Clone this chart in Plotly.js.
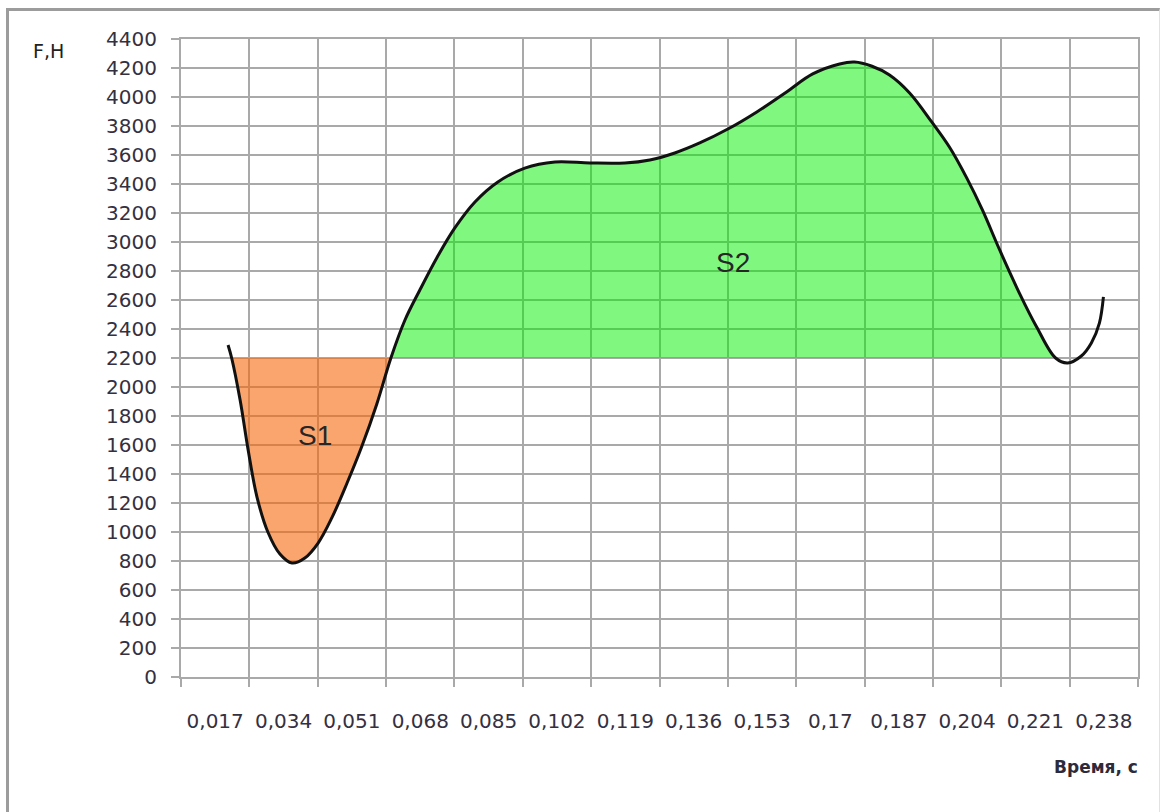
<!DOCTYPE html>
<html>
<head>
<meta charset="utf-8">
<script src="https://cdn.plot.ly/plotly-3.0.1.min.js"></script>
<style>
  html, body { margin: 0; padding: 0; background: #fff; }
  #wrap { position: relative; width: 1163px; height: 812px; }
  #chart { position: absolute; left: 0; top: 0; width: 1163px; height: 812px; }
  #frame { position: absolute; left: 6px; top: 8px; width: 1150px; height: 810px;
           border-left: 3px solid #9c9c9c; border-top: 3px solid #9c9c9c; border-right: 1px solid #e2e2e2;
           pointer-events: none; }
</style>
</head>
<body>
<div id="wrap">
  <div id="chart"></div>
  <div id="frame"></div>
</div>
<script>
// ---- data ----
const timeS = [0.0202, 0.0211, 0.0232, 0.0252, 0.0274, 0.0301, 0.0331, 0.0361, 0.0393, 0.0426,
               0.0460, 0.0498, 0.0535, 0.0572, 0.0607, 0.0642, 0.0679, 0.0721, 0.0766, 0.0816,
               0.0873, 0.0940, 0.1015, 0.1102, 0.1189, 0.1251, 0.1313, 0.1375, 0.1445, 0.1517,
               0.1591, 0.1656, 0.1723, 0.1760, 0.1802, 0.1847, 0.1897, 0.1952, 0.1996, 0.2039,
               0.2078, 0.2121, 0.2170, 0.2213, 0.2260, 0.2290, 0.2324, 0.2349, 0.2369, 0.2379];
const forceN = [2290, 2200, 1910, 1566, 1241, 1000, 848, 786, 821, 924,
                1097, 1338, 1593, 1883, 2200, 2462, 2669, 2890, 3097, 3276,
                3414, 3510, 3552, 3545, 3545, 3566, 3614, 3683, 3779, 3897,
                4035, 4159, 4228, 4241, 4214, 4152, 4028, 3828, 3655, 3442,
                3221, 2945, 2648, 2414, 2200, 2166, 2214, 2304, 2441, 2621];
const baseLevel = 2200;
const regionLabels = ['S1', 'S2'];
const regionLabelX = [0.0418, 0.1458];
const regionLabelY = [1669, 2862];
const xTickVals = [0.017, 0.034, 0.051, 0.068, 0.085, 0.102, 0.119, 0.136, 0.153, 0.17, 0.187, 0.204, 0.221, 0.238];
const xTickText = ['0,017', '0,034', '0,051', '0,068', '0,085', '0,102', '0,119', '0,136', '0,153', '0,17', '0,187', '0,204', '0,221', '0,238'];
const yAxisLabel = 'F,H';
const xAxisLabel = 'Время, с';

// ---- segments between the crossings of the base level ----
const cross = [];
forceN.forEach((v, i) => { if (v === baseLevel) cross.push(i); });
function seg(a, b) { return { x: timeS.slice(a, b + 1), y: forceN.slice(a, b + 1) }; }
const s1 = seg(cross[0], cross[1]);
const s2 = seg(cross[1], cross[2]);

const gridCol = '#a9a9a9';
const tickFont = { family: 'DejaVu Sans, Verdana, sans-serif', size: 20, color: '#35303f' };

const traces = [
  { x: [s1.x[0], s1.x[s1.x.length - 1]], y: [baseLevel, baseLevel], mode: 'lines',
    line: { width: 0 }, hoverinfo: 'skip', showlegend: false },
  { x: s1.x, y: s1.y, mode: 'lines', line: { width: 0, shape: 'spline' }, fill: 'tonexty',
    fillcolor: 'rgba(247,105,13,0.6)', hoverinfo: 'skip', showlegend: false },
  { x: [s2.x[0], s2.x[s2.x.length - 1]], y: [baseLevel, baseLevel], mode: 'lines',
    line: { width: 0 }, hoverinfo: 'skip', showlegend: false },
  { x: s2.x, y: s2.y, mode: 'lines', line: { width: 0, shape: 'spline' }, fill: 'tonexty',
    fillcolor: 'rgba(1,241,1,0.5)', hoverinfo: 'skip', showlegend: false },
  { x: timeS, y: forceN, mode: 'lines', line: { color: '#111', width: 3, shape: 'spline' },
    hoverinfo: 'skip', showlegend: false }
];

const annotations = regionLabels.map((t, i) => ({
  x: regionLabelX[i], y: regionLabelY[i], xref: 'x', yref: 'y', text: t, showarrow: false,
  font: { family: 'Liberation Sans, Arial, sans-serif', size: 28, color: '#262626' }
}));
annotations.push({ x: -0.138, y: 0.981, xref: 'paper', yref: 'paper', text: yAxisLabel,
  showarrow: false, xanchor: 'center', yanchor: 'middle',
  font: { family: 'DejaVu Sans, sans-serif', size: 19, color: '#222' } });
annotations.push({ x: 1.002, y: -0.141, xref: 'paper', yref: 'paper', text: '<b>' + xAxisLabel + '</b>',
  showarrow: false, xanchor: 'right', yanchor: 'middle',
  font: { family: 'DejaVu Sans, sans-serif', size: 17, color: '#2e2a3a' } });

const layout = {
  width: 1163, height: 812,
  margin: { l: 181, r: 25, t: 39, b: 135 },
  paper_bgcolor: '#fff', plot_bgcolor: '#fff',
  showlegend: false,
  hovermode: false,
  xaxis: {
    range: [0.0085, 0.2465], fixedrange: true,
    tickvals: xTickVals, ticktext: xTickText, tickfont: tickFont,
    ticks: '', showgrid: false, zeroline: false,
    ticklabelstandoff: 25,
    showline: true, mirror: true, linecolor: gridCol, linewidth: 2,
    minor: { tick0: 0.0085, dtick: 0.017, showgrid: true, gridcolor: gridCol, gridwidth: 2,
             ticks: 'outside', ticklen: 8, tickcolor: gridCol, tickwidth: 2 }
  },
  yaxis: {
    range: [0, 4400], fixedrange: true,
    dtick: 200, tick0: 0, tickfont: tickFont,
    ticks: 'outside', ticklen: 8, tickcolor: gridCol, tickwidth: 2,
    ticklabelstandoff: 10,
    showgrid: true, gridcolor: gridCol, gridwidth: 2, zeroline: false,
    showline: true, mirror: true, linecolor: gridCol, linewidth: 2
  },
  annotations: annotations
};

Plotly.newPlot('chart', traces, layout, { displayModeBar: false, staticPlot: true });
</script>
</body>
</html>
